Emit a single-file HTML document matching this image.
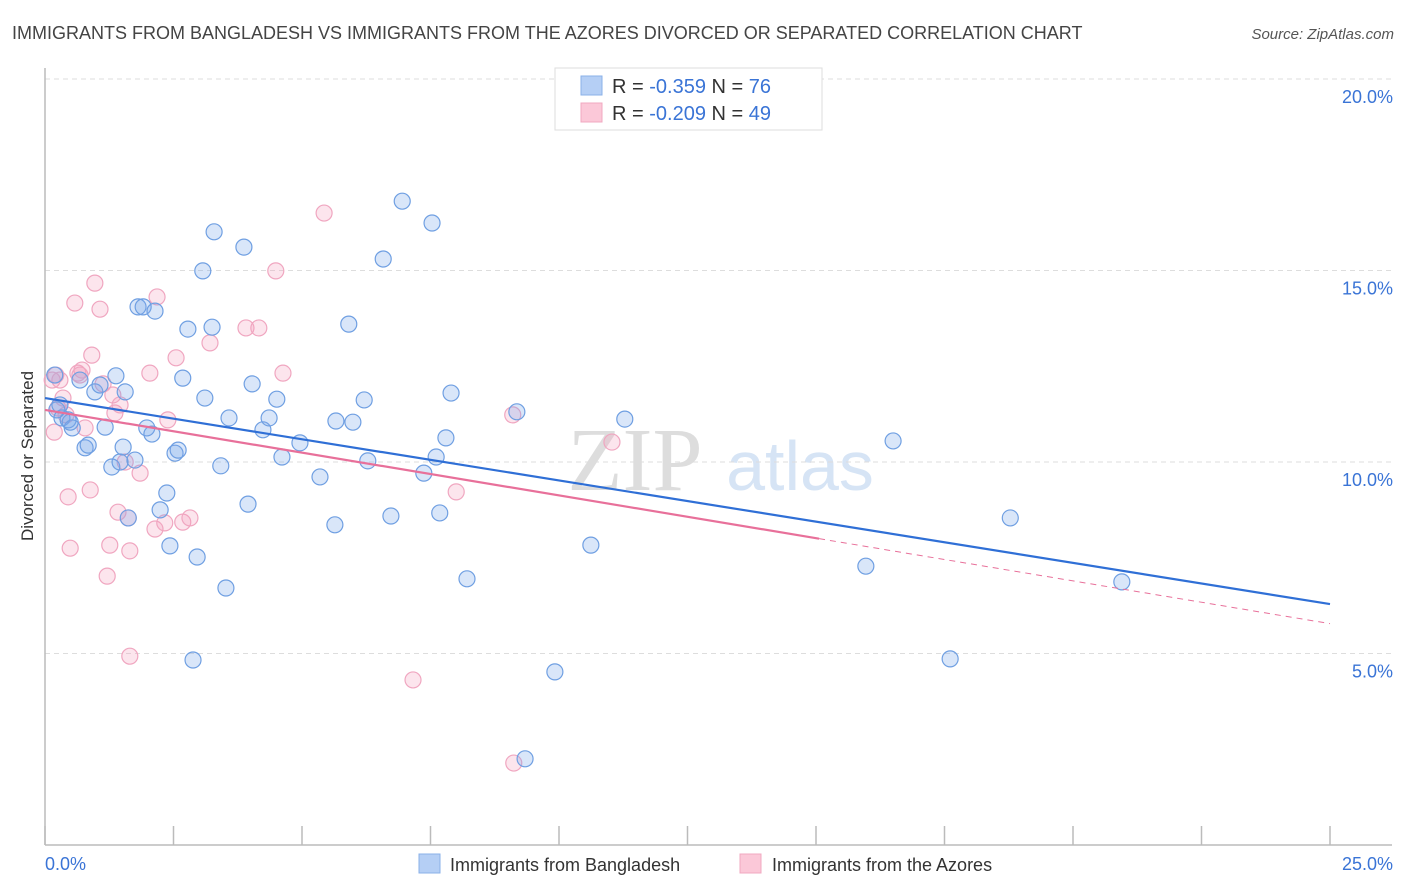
<!DOCTYPE html>
<html><head><meta charset="utf-8"><style>
body{margin:0;background:#fff;font-family:"Liberation Sans",sans-serif;}
svg{display:block}
</style></head><body>
<svg id="chart" width="1406" height="892">
<text x="12" y="39" font-size="18" fill="#444">IMMIGRANTS FROM BANGLADESH VS IMMIGRANTS FROM THE AZORES DIVORCED OR SEPARATED CORRELATION CHART</text>
<text x="1394" y="39" font-size="15" fill="#555" font-style="italic" text-anchor="end">Source: ZipAtlas.com</text>
<text x="635" y="490" font-size="90" fill="#ddd" font-family="Liberation Serif,serif" text-anchor="middle">ZIP</text>
<text x="800" y="490" font-size="70" fill="#d6e4f5" text-anchor="middle">atlas</text>
<g id="grid"></g>
<line x1="45" y1="68" x2="45" y2="845" stroke="#bbb" stroke-width="1.5"/>
<line x1="45" y1="845" x2="1392" y2="845" stroke="#bbb" stroke-width="1.5"/>
<g id="xticks"></g>
<text transform="translate(33,456) rotate(-90)" font-size="17" fill="#333" text-anchor="middle">Divorced or Separated</text>
<g id="pts"></g>
<g id="lines"></g>
<g>
<rect x="555" y="68" width="267" height="62" fill="#fff" stroke="#ddd"/>
<rect x="581" y="76" width="21" height="19" fill="#b5cff5" stroke="#8ab0e8"/>
<rect x="581" y="103" width="21" height="19" fill="#fbc8d8" stroke="#f0a8c0"/>
<text x="612" y="93" font-size="20" fill="#333">R = <tspan fill="#3a74d6">-0.359</tspan>   N = <tspan fill="#3a74d6">76</tspan></text>
<text x="612" y="120" font-size="20" fill="#333">R = <tspan fill="#3a74d6">-0.209</tspan>   N = <tspan fill="#3a74d6">49</tspan></text>
</g>
<text x="45" y="870" font-size="18" fill="#3a74d6">0.0%</text>
<text x="1393" y="870" font-size="18" fill="#3a74d6" text-anchor="end">25.0%</text>
<g>
<rect x="419" y="854" width="21" height="19" fill="#b5cff5" stroke="#8ab0e8"/>
<text x="450" y="871" font-size="18" fill="#333">Immigrants from Bangladesh</text></g>
<g>
<rect x="740" y="854" width="21" height="19" fill="#fbc8d8" stroke="#f0a8c0"/>
<text x="772" y="871" font-size="18" fill="#333">Immigrants from the Azores</text></g>
</svg>
<script>
const yTicks=[5,10,15,20];
const yTickLabels=["5.0%","10.0%","15.0%","20.0%"];
const xTicks=[0,2.5,5,7.5,10,12.5,15,17.5,20,22.5,25];
const blueX=[.19,.23,.33,.45,.53,.68,.78,.84,.97,1.07,1.17,1.30,1.38,1.46,1.52,1.56,1.62,1.75,1.81,1.91,1.98,2.08,2.14,2.24,2.37,2.43,2.53,2.59,2.68,2.78,2.88,2.96,3.07,3.11,3.25,3.29,3.42,3.52,3.58,3.87,3.95,4.03,4.24,4.36,4.51,4.61,4.96,5.35,5.64,5.66,5.91,5.99,6.21,6.28,6.58,6.73,6.95,7.37,7.53,7.61,7.68,7.80,7.90,8.21,9.18,9.92,10.62,11.28,15.97,16.50,17.61,18.78,20.95,9.34,.29,.49];
const blueY=[12.27,11.36,11.15,11.10,10.89,12.14,10.37,10.44,11.83,12.01,10.91,9.87,12.25,10.00,10.39,11.83,8.54,10.05,14.05,14.05,10.89,10.73,13.94,8.75,9.19,7.81,10.23,10.31,12.19,13.47,4.83,7.52,14.99,11.67,13.52,16.01,9.90,6.71,11.15,15.61,8.90,12.04,10.84,11.15,11.64,10.13,10.50,9.61,8.36,11.07,13.60,11.04,11.62,10.03,15.30,8.59,16.81,9.71,16.24,10.13,8.67,10.63,11.80,6.95,11.31,4.52,7.83,11.12,7.28,10.55,4.86,8.54,6.87,2.25,11.49,11.04];
const pinkX=[.14,.18,.21,.25,.35,.41,.45,.49,.58,.64,.72,.78,.88,.91,.97,1.07,1.13,1.21,1.26,1.32,1.36,1.42,1.46,1.56,1.62,1.65,1.65,1.85,2.04,2.14,2.18,2.33,2.39,2.55,2.68,2.82,3.21,3.91,4.16,4.49,4.63,5.43,7.16,8.00,9.10,9.12,11.03,.29,.68];
const pinkY=[12.14,10.78,12.27,11.41,11.67,11.23,9.09,7.75,14.15,12.32,12.40,10.89,9.27,12.79,14.67,13.99,12.04,7.02,7.83,11.75,11.28,8.69,11.49,10.00,8.54,4.93,7.68,9.71,12.32,8.25,14.31,8.41,11.10,12.72,8.43,8.54,13.11,13.50,13.50,14.99,12.32,16.50,4.31,9.22,11.23,2.14,10.52,12.14,12.27];
const blueTrend=[11.67,-0.2152];
const pinkTrend=[11.36,-0.2232];
const pinkSolidEnd=15.06;
const NS="http://www.w3.org/2000/svg";
const sx=v=>45+v/25*1285;
const sy=v=>845-v*38.3;
function mk(tag,attrs,parent){const e=document.createElementNS(NS,tag);for(const k in attrs)e.setAttribute(k,attrs[k]);parent.appendChild(e);return e;}
const grid=document.getElementById('grid');
yTicks.forEach((t,i)=>{
 const l=mk('line',{x1:45,x2:1392,y1:sy(t),y2:sy(t),stroke:'#ddd','stroke-dasharray':'5,4'},grid);
 
 
 const tx=mk('text',{x:1393,y:sy(t)+24,'font-size':18,fill:'#3a74d6','text-anchor':'end'},grid);
 tx.textContent=yTickLabels[i];
 
 
});
const tg=document.getElementById('xticks');
xTicks.forEach(t=>{
 const l=mk('line',{x1:sx(t),x2:sx(t),y1:826,y2:845,stroke:'#bbb','stroke-width':1.5},tg);
 
 
});
const pg=document.getElementById('pts');
function pts(xs,ys,fill,stroke,name){xs.forEach((x,i)=>{
 const c=mk('circle',{cx:sx(x),cy:sy(ys[i]),r:8,fill:fill,stroke:stroke,'stroke-width':1.2},pg);
 
 
});}
pts(pinkX,pinkY,'rgba(245,160,190,0.28)','#f0a6c0','azores-point');
pts(blueX,blueY,'rgba(120,165,235,0.28)','#6f9fe2','bangladesh-point');
const lg=document.getElementById('lines');
const f=(tr,x)=>tr[0]+tr[1]*x;
const b=mk('line',{x1:sx(0),y1:sy(f(blueTrend,0)),x2:sx(25),y2:sy(f(blueTrend,25)),stroke:'#2f6fd6','stroke-width':2.2},lg);


const p=mk('line',{x1:sx(0),y1:sy(f(pinkTrend,0)),x2:sx(pinkSolidEnd),y2:sy(f(pinkTrend,pinkSolidEnd)),stroke:'#e8709a','stroke-width':2.2},lg);


const pd=mk('line',{x1:sx(pinkSolidEnd),y1:sy(f(pinkTrend,pinkSolidEnd)),x2:sx(25),y2:sy(f(pinkTrend,25)),stroke:'#e8709a','stroke-width':1,'stroke-dasharray':'6,5'},lg);


</script>
</body></html>
